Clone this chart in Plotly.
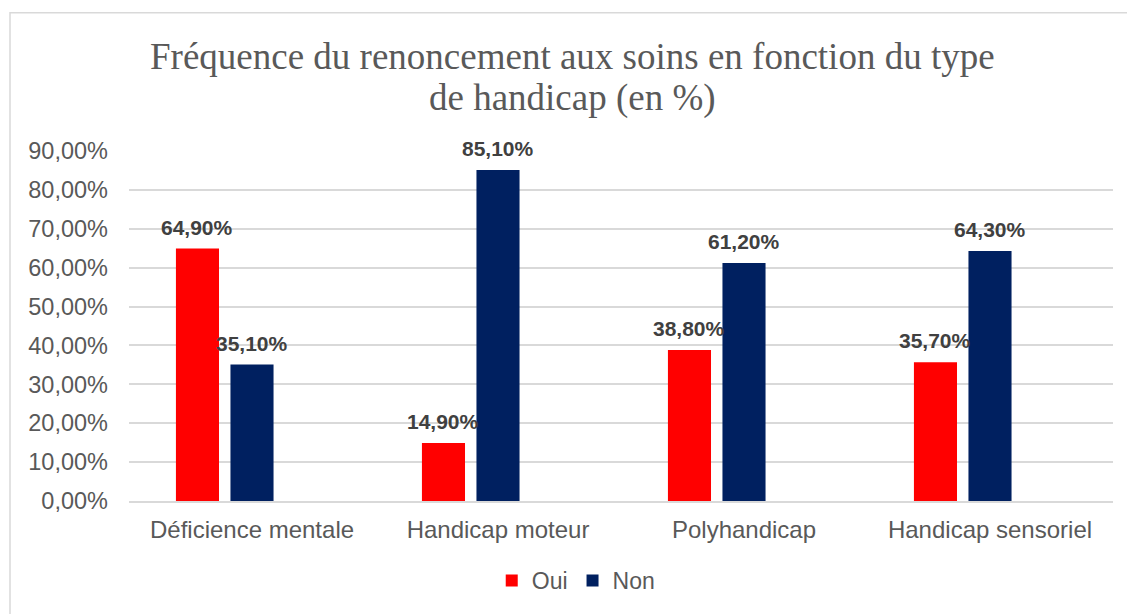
import plotly.graph_objects as go

categories = ["Déficience mentale", "Handicap moteur", "Polyhandicap", "Handicap sensoriel"]
oui = [0.649, 0.149, 0.388, 0.357]
non = [0.351, 0.851, 0.612, 0.643]
empty = [None, None, None, None]
series_names = ["Oui", "Non"]
colors = ["#FF0000", "#002060"]
title_line1 = "Fréquence du renoncement aux soins en fonction du type"
title_line2 = "de handicap (en %)"

W, H = 1127, 614
L, R, T, B = 129, 14, 151, 111
BARGAP = 0.335
GROUPGAP = 0.21

fig = go.Figure()
for name, vals, col in zip(series_names, [oui, non], colors):
    fig.add_trace(go.Bar(x=categories, y=vals, name=name, marker_color=col,
                         marker_line_width=0))
# empty third series slot (as in original spreadsheet)
fig.add_trace(go.Bar(x=categories, y=empty, name="", showlegend=False,
                     hoverinfo="skip"))

plot_w = W - L - R
ph = H - T - B
slot = plot_w / len(categories) * (1 - BARGAP) / 3
anns = []
for k, vals in enumerate([oui, non]):
    for c, v in zip(categories, vals):
        anns.append(dict(x=c, y=v, xref="x", yref="y", text=f"{v*100:.2f}%".replace(".", ","),
                         showarrow=False, yanchor="bottom", yshift=8, xshift=(k - 1) * slot,
                         font=dict(family="Liberation Sans, Arial", size=21, color="#404040",
                                   weight="bold")))
title_font = dict(family="Liberation Serif, Times New Roman", size=37, color="#595959")
for txt, ypx in [(title_line1, 56), (title_line2, 98)]:
    anns.append(dict(text=txt, xref="paper", yref="paper", x=(572 - L) / plot_w,
                     y=(H - B - ypx) / ph, xanchor="center", yanchor="middle",
                     showarrow=False, font=title_font))
fig.update_layout(annotations=anns)

fig.add_shape(type="rect", xref="paper", yref="paper",
              x0=(10 - L) / plot_w, x1=(W + 5 - L) / plot_w,
              y0=(H - B - (H + 5)) / ph, y1=(H - B - 12) / ph,
              line=dict(color="#D9D9D9", width=1.5), fillcolor="rgba(0,0,0,0)", layer="below")

fig.update_layout(
    width=W, height=H,
    margin=dict(l=L, r=R, t=T, b=B),
    paper_bgcolor="white", plot_bgcolor="white",
    separators=", ",
    barmode="group", bargap=BARGAP, bargroupgap=GROUPGAP,
    font=dict(family="Liberation Sans, Arial", color="#595959"),
    xaxis=dict(showgrid=False, showline=True, linecolor="#D9D9D9", linewidth=1.5,
               tickfont=dict(size=24, color="#595959"), ticks="", ticklabelstandoff=6),
    yaxis=dict(range=[0, 0.9], dtick=0.1, tickformat=".2%", showgrid=True,
               gridcolor="#D9D9D9", gridwidth=1.5, zeroline=False, showline=False,
               tickfont=dict(size=23.5, color="#595959"), ticks="", ticklabelstandoff=20),
    legend=dict(orientation="h", x=0.454, xanchor="center", y=-0.227, yanchor="middle",
                font=dict(size=23, color="#595959"), itemwidth=30, traceorder="normal"),
    showlegend=True,
)

fig.write_html("out.html", config={"displayModeBar": False},
               post_script="document.body.style.margin='0';document.body.style.overflow='hidden';")
